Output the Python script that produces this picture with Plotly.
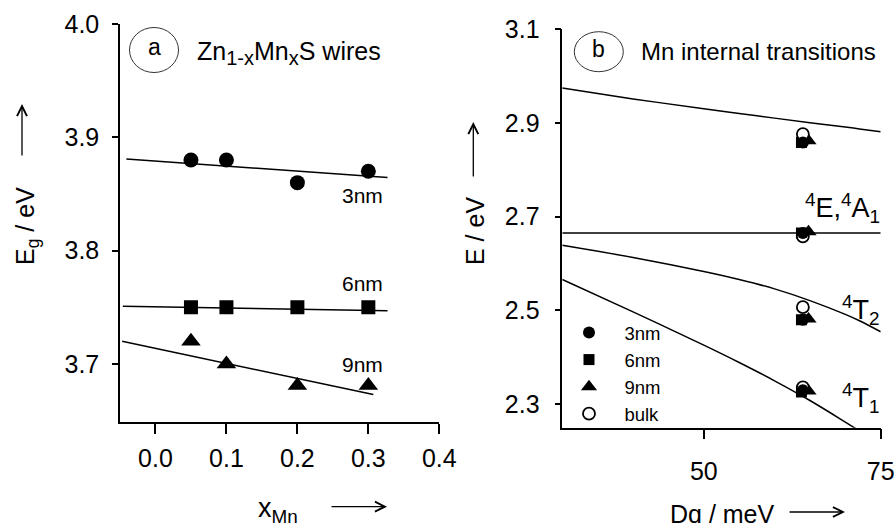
import plotly.graph_objects as go

W, H = 896, 523
FONT = "Liberation Sans, Arial, sans-serif"

# ---------------- Panel (a) data ----------------
x_mn = [0.05, 0.1, 0.2, 0.3]
eg_3nm = [3.880, 3.880, 3.860, 3.870]
eg_6nm = [3.750, 3.750, 3.750, 3.750]
eg_9nm = [3.720, 3.700, 3.681, 3.681]

fit_3nm_x = [-0.041, 0.327]
fit_3nm_y = [3.8808, 3.8646]
fit_6nm_x = [-0.046, 0.327]
fit_6nm_y = [3.751, 3.747]
fit_9nm_x = [-0.047, 0.307]
fit_9nm_y = [3.720, 3.673]

# ---------------- Panel (b) data ----------------
dq_3nm = [64.0, 64.0, 64.0, 64.0]
e_3nm = [2.858, 2.665, 2.480, 2.330]
dq_6nm = [63.8, 63.8, 63.8, 63.8]
e_6nm = [2.858, 2.665, 2.480, 2.326]
dq_9nm = [64.8, 64.8, 64.8, 64.8]
e_9nm = [2.862, 2.668, 2.482, 2.328]
dq_bulk = [64.0, 64.0, 64.0, 64.0]
e_bulk = [2.876, 2.658, 2.507, 2.336]

curve_dq = [30, 40, 50, 55, 60, 65, 70, 72, 75]
curve_top = [2.974, 2.951, 2.930, 2.920, 2.910, 2.900, 2.891, 2.887, 2.881]
curve_4E4A1 = [2.665] * 9
curve_4T2 = [2.639, 2.613, 2.583, 2.566, 2.546, 2.521, 2.4915, 2.478, 2.4545]
curve_4T1 = [2.566, 2.497, 2.426, 2.389, 2.350, 2.308, 2.262, 2.243, 2.213]


def px(x):
    return x / W


def py(y):
    return 1 - y / H


fig = go.Figure()

line_style = dict(color="black", width=1.5)

# panel a fit lines
for fx, fy in [(fit_3nm_x, fit_3nm_y), (fit_6nm_x, fit_6nm_y), (fit_9nm_x, fit_9nm_y)]:
    fig.add_trace(go.Scatter(x=fx, y=fy, mode="lines", line=line_style,
                             showlegend=False, xaxis="x", yaxis="y", hoverinfo="skip"))

fig.add_trace(go.Scatter(x=x_mn, y=eg_3nm, mode="markers", xaxis="x", yaxis="y",
                         marker=dict(symbol="circle", size=15, color="black"), showlegend=False))
fig.add_trace(go.Scatter(x=x_mn, y=eg_6nm, mode="markers", xaxis="x", yaxis="y",
                         marker=dict(symbol="square", size=14, color="black"), showlegend=False))
fig.add_trace(go.Scatter(x=x_mn, y=eg_9nm, mode="markers", xaxis="x", yaxis="y",
                         marker=dict(symbol="triangle-up", size=17, color="black"), showlegend=False))

# panel b curves
for cy in [curve_top, curve_4E4A1, curve_4T2, curve_4T1]:
    fig.add_trace(go.Scatter(x=curve_dq, y=cy, mode="lines",
                             line=dict(color="black", width=1.5, shape="spline", smoothing=1.0),
                             showlegend=False, xaxis="x2", yaxis="y2", hoverinfo="skip"))

NB = "\u00a0\u00a0\u00a0"
fig.add_trace(go.Scatter(x=dq_6nm, y=e_6nm, mode="markers", xaxis="x2", yaxis="y2", name=NB + "6nm",
                         legendrank=2, marker=dict(symbol="square", size=11, color="black")))
fig.add_trace(go.Scatter(x=dq_9nm, y=e_9nm, mode="markers", xaxis="x2", yaxis="y2", name=NB + "9nm",
                         legendrank=3, marker=dict(symbol="triangle-up", size=14, color="black")))
fig.add_trace(go.Scatter(x=dq_bulk, y=e_bulk, mode="markers", xaxis="x2", yaxis="y2", name=NB + "bulk",
                         legendrank=4, marker=dict(symbol="circle", size=12, color="white",
                                                   line=dict(color="black", width=1.8))))
fig.add_trace(go.Scatter(x=dq_3nm, y=e_3nm, mode="markers", xaxis="x2", yaxis="y2", name=NB + "3nm",
                         legendrank=1, marker=dict(symbol="circle", size=12, color="black")))

TICK = 25
axis_common = dict(showline=True, linecolor="black", linewidth=1.5, ticks="outside",
                   tickcolor="black", tickwidth=1.5, showgrid=False, zeroline=False,
                   automargin=False,
                   tickfont=dict(family=FONT, size=TICK, color="black"))

fig.update_layout(
    template="none",
    width=W, height=H, margin=dict(l=0, r=0, t=0, b=0, pad=0, autoexpand=False),
    paper_bgcolor="white", plot_bgcolor="white",
    font=dict(family=FONT, color="black"),
    xaxis=dict(domain=[px(120), px(439.3)], range=[-0.05, 0.4], anchor="y",
               tick0=0, dtick=0.1, tickformat=".1f", ticklen=10, ticklabelstandoff=3, **axis_common),
    yaxis=dict(domain=[py(422.3), py(24)], range=[3.6485, 4.0], anchor="x",
               tick0=3.7, dtick=0.1, tickformat=".1f", ticklen=6, ticklabelstandoff=8, **axis_common),
    xaxis2=dict(domain=[px(562.3), px(880.7)], range=[30, 75], anchor="y2",
                tick0=0, dtick=25, ticklen=10, ticklabelstandoff=11, **axis_common),
    yaxis2=dict(domain=[py(427.7), py(29)], range=[2.25, 3.1], anchor="x2",
                tick0=2.3, dtick=0.2, tickformat=".1f", ticklen=6, ticklabelstandoff=10, **axis_common),
    legend=dict(x=px(569), y=py(314), xanchor="left", yanchor="top",
                bgcolor="rgba(0,0,0,0)", borderwidth=0,
                font=dict(family=FONT, size=18.5, color="black"),
                itemsizing="trace", tracegroupgap=0),
    showlegend=True,
)

annotations = []


def txt(text, x, y, size, xref="paper", yref="paper", xanchor="center", yanchor="middle", angle=0):
    annotations.append(dict(text=text, x=x, y=y, xref=xref, yref=yref, xanchor=xanchor, yanchor=yanchor,
                            showarrow=False, textangle=angle, font=dict(family=FONT, size=size, color="black")))


def arrow(x_head, y_head, ax, ay):
    annotations.append(dict(text="", x=px(x_head), y=py(y_head), xref="paper", yref="paper",
                            ax=ax, ay=ay, showarrow=True, arrowhead=5, arrowsize=1.5,
                            arrowwidth=1.3, arrowcolor="black"))


SUB = "<sub><span style='font-size:20px'>%s</span></sub>"

# panel a labels
txt("3nm", 0.2915, 3.8485, 21, xref="x", yref="y")
txt("6nm", 0.2915, 3.771, 21, xref="x", yref="y")
txt("9nm", 0.2915, 3.6995, 21, xref="x", yref="y")
txt("a", px(154), py(47), 23)
txt("Zn" + SUB % "1-x" + "Mn" + SUB % "x" + "S wires", px(195), py(53), 25, xanchor="left")

# panel b labels
txt("b", px(598.5), py(49), 23)
txt("Mn internal transitions", px(639), py(51), 24, xanchor="left")
txt("<sup>4</sup>E,<sup>4</sup>A<sub>1</sub>", px(882), py(208), 27, xanchor="right")
txt("<sup>4</sup>T<sub>2</sub>", px(882), py(310), 27, xanchor="right")
txt("<sup>4</sup>T<sub>1</sub>", px(882), py(398), 27, xanchor="right")

# axis titles
txt("E<sub>g</sub> / eV", px(27), py(226), 25, angle=-90)
arrow(22, 104, 0, 53)
txt("E / eV", px(475), py(231), 25, angle=-90)
arrow(473.3, 122, 0, 56)
txt("x<sub>Mn</sub>", px(278), py(510), 27)
arrow(387, 506.7, -57, 0)
txt("Dq / meV", px(722), py(514), 25)
arrow(845, 512, -57, 0)

fig.update_layout(annotations=annotations)

# circled letters
fig.add_shape(type="circle", xref="paper", yref="paper",
              x0=px(129.5), x1=px(178.5), y0=py(72.5), y1=py(27.5),
              line=dict(color="#333333", width=1))
fig.add_shape(type="circle", xref="paper", yref="paper",
              x0=px(574.3), x1=px(623.3), y0=py(71.7), y1=py(31.7),
              line=dict(color="#333333", width=1))

fig.write_html("out.html")
